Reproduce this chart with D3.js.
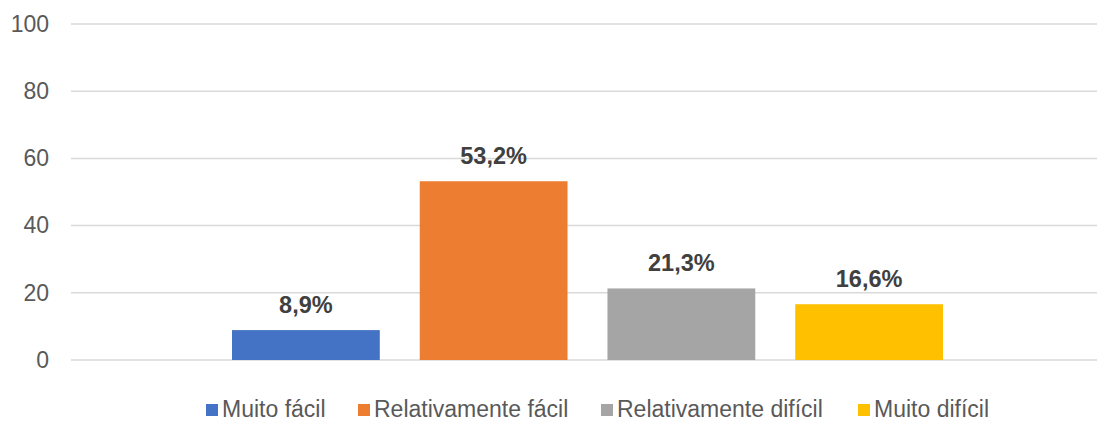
<!DOCTYPE html>
<html lang="pt">
<head>
<meta charset="utf-8">
<title>Grau de dificuldade</title>
<script src="https://cdn.jsdelivr.net/npm/d3@7"></script>
<style>
  body { margin: 0; background: #fff; }
  svg text { font-family: "Liberation Sans", Arial, sans-serif; }
</style>
</head>
<body>
<script>
// data
var categories = [""];
var series = ["Muito fácil", "Relativamente fácil", "Relativamente difícil", "Muito difícil"];
var values = [8.9, 53.2, 21.3, 16.6];
var colors = ["#4472C4", "#ED7D31", "#A5A5A5", "#FFC000"];
var yTicks = [0, 20, 40, 60, 80, 100];

var w = 1097, h = 421;
var plotLeft = 71, plotRight = 1097, plotTop = 24, plotBottom = 360;

var svg = d3.select("body").append("svg")
    .attr("width", w)
    .attr("height", h);

var y = d3.scaleLinear().domain([0, 100]).range([plotBottom, plotTop]);

// group band for the single category, then one band per series
var x0 = d3.scaleBand().domain(categories).range([232, 943]).padding(0);
var x1 = d3.scaleBand().domain(series).range([0, x0.bandwidth()])
    .paddingInner(40 / 188).paddingOuter(0);

// gridlines
svg.append("g").selectAll("line")
    .data(yTicks)
    .enter().append("line")
    .attr("x1", plotLeft).attr("x2", plotRight)
    .attr("y1", function(d) { return y(d); })
    .attr("y2", function(d) { return y(d); })
    .attr("stroke", "#d9d9d9")
    .attr("stroke-width", 1.5);

// y axis labels
var yAxis = d3.axisLeft(y).tickValues(yTicks).tickSize(0).tickPadding(0);
var ga = svg.append("g").attr("transform", "translate(49,0)").call(yAxis);
ga.select(".domain").remove();
ga.selectAll("text")
    .attr("fill", "#595959")
    .style("font-size", "23px")
    .style("font-family", "'Liberation Sans', Arial, sans-serif");

// bars
var g = svg.append("g").attr("transform", "translate(" + x0(categories[0]) + ",0)");
g.selectAll("rect")
    .data(values)
    .enter().append("rect")
    .attr("x", function(d, i) { return x1(series[i]); })
    .attr("width", x1.bandwidth())
    .attr("y", function(d) { return y(d); })
    .attr("height", function(d) { return plotBottom - y(d); })
    .attr("fill", function(d, i) { return colors[i]; });

// value labels
g.selectAll("text.val")
    .data(values)
    .enter().append("text")
    .attr("class", "val")
    .attr("x", function(d, i) { return x1(series[i]) + x1.bandwidth() / 2; })
    .attr("y", function(d) { return y(d) - 17; })
    .attr("text-anchor", "middle")
    .attr("fill", "#404040")
    .style("font-size", "23.5px")
    .style("font-weight", "bold")
    .text(function(d) { return d.toFixed(1).replace(".", ",") + "%"; });

// legend
var legendX = [206, 358, 601, 858];
var lg = svg.append("g").selectAll("g")
    .data(series)
    .enter().append("g")
    .attr("transform", function(d, i) { return "translate(" + legendX[i] + ",404)"; });
lg.append("rect")
    .attr("width", 12).attr("height", 12)
    .attr("fill", function(d, i) { return colors[i]; });
lg.append("text")
    .attr("x", 16).attr("y", 13)
    .attr("fill", "#595959")
    .style("font-size", "23px")
    .text(function(d) { return d; });
</script>
</body>
</html>
